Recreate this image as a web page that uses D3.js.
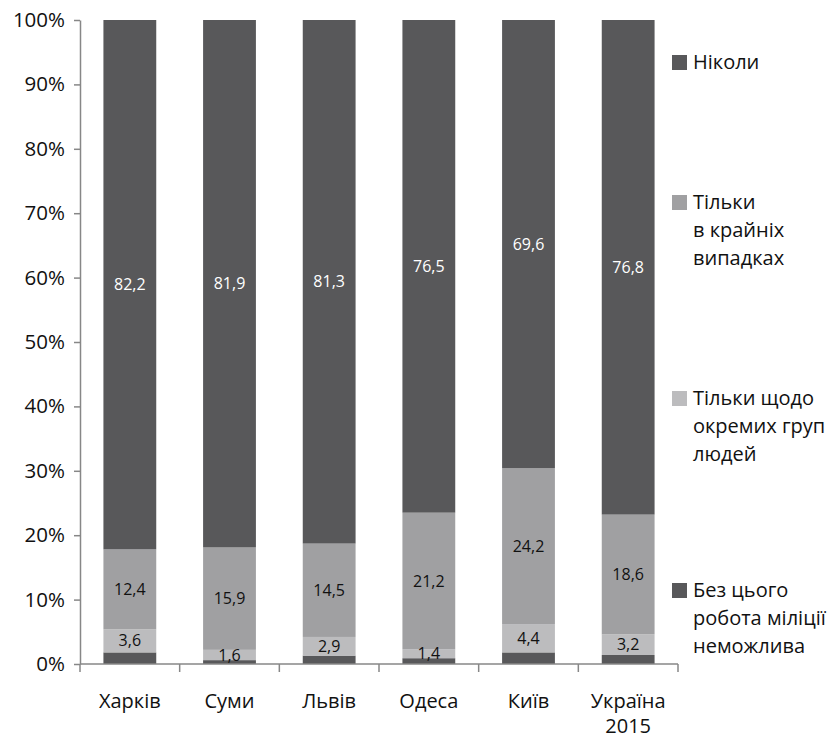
<!DOCTYPE html>
<html>
<head>
<meta charset="utf-8">
<script src="https://cdn.jsdelivr.net/npm/d3@7"></script>
<style>
  body { margin: 0; background: #fff; }
  text { font-family: "Open Sans", sans-serif; }
</style>
</head>
<body>
<div id="chart"></div>
<script>
const cities = ["Харків", "Суми", "Львів", "Одеса", "Київ", "Україна\n2015"];
const withoutIt = [1.8, 0.6, 1.3, 0.9, 1.8, 1.4];
const someGroups = [3.6, 1.6, 2.9, 1.4, 4.4, 3.2];
const extremeCases = [12.4, 15.9, 14.5, 21.2, 24.2, 18.6];
const never = [82.2, 81.9, 81.3, 76.5, 69.6, 76.8];

const seriesNames = ["Без цього робота міліції неможлива", "Тільки щодо окремих груп людей", "Тільки в крайніх випадках", "Ніколи"];
const seriesValues = [withoutIt, someGroups, extremeCases, never];
const colors = ["#58585a", "#bcbcbe", "#a0a0a2", "#58585a"];
const labelColors = [null, "#111", "#111", "#fff"];
const legendLines = [
    ["Без цього", "робота міліції", "неможлива"],
    ["Тільки щодо", "окремих груп", "людей"],
    ["Тільки", "в крайніх", "випадках"],
    ["Ніколи"]
];
const legendY = [590, 398, 202, 62];

const width = 839;
const height = 739;
const margin = { top: 20, right: 161, bottom: 75, left: 80 };

const svg = d3.select("#chart").append("svg")
    .attr("width", width)
    .attr("height", height);

const x = d3.scaleBand()
    .domain(cities)
    .range([margin.left, width - margin.right])
    .paddingInner(0.47)
    .paddingOuter(0.235);

const y = d3.scaleLinear()
    .domain([0, 100])
    .range([height - margin.bottom, margin.top]);

// stack the rows
const rows = cities.map((c, i) => {
    const r = { city: c };
    seriesNames.forEach((s, k) => { r[s] = seriesValues[k][i]; });
    return r;
});
const stacked = d3.stack().keys(seriesNames)(rows);

const layers = svg.selectAll("g.layer")
    .data(stacked)
    .join("g")
    .attr("class", "layer")
    .attr("fill", (d, i) => colors[i]);

layers.selectAll("rect")
    .data(d => d)
    .join("rect")
    .attr("x", d => x(d.data.city))
    .attr("width", x.bandwidth())
    .attr("y", d => y(d[1]))
    .attr("height", d => y(d[0]) - y(d[1]));

// value labels
stacked.forEach((layer, k) => {
    if (!labelColors[k]) return;
    svg.append("g").selectAll("text")
        .data(layer)
        .join("text")
        .attr("x", d => x(d.data.city) + x.bandwidth() / 2)
        .attr("y", d => y((d[0] + d[1]) / 2))
        .attr("dy", "0.35em")
        .attr("text-anchor", "middle")
        .attr("font-size", 16)
        .attr("fill", labelColors[k])
        .text(d => d3.format(".1f")(d[1] - d[0]).replace(".", ","));
});

// y axis
const yAxis = svg.append("g")
    .attr("transform", `translate(${margin.left},0)`)
    .call(d3.axisLeft(y).ticks(10).tickSize(6).tickSizeOuter(0).tickPadding(9)
        .tickFormat(d => d + "%"));
yAxis.selectAll("path, line").attr("stroke", "#878787").attr("stroke-width", 1.5);
yAxis.selectAll("text").attr("font-size", 20.5).attr("fill", "#111");

// x axis with ticks at band boundaries
const x0 = x.range()[0];
const step = x.step();
const bounds = d3.range(cities.length + 1).map(i => x0 + i * step);
svg.append("line")
    .attr("x1", x0).attr("x2", bounds[bounds.length - 1])
    .attr("y1", y(0)).attr("y2", y(0))
    .attr("stroke", "#878787").attr("stroke-width", 1.5);
svg.append("g").selectAll("line")
    .data(bounds)
    .join("line")
    .attr("x1", d => d).attr("x2", d => d)
    .attr("y1", y(0)).attr("y2", y(0) + 8)
    .attr("stroke", "#878787").attr("stroke-width", 1.5);

svg.append("g").selectAll("text")
    .data(cities)
    .join("text")
    .attr("x", d => x(d) + x.bandwidth() / 2)
    .attr("y", y(0) + 44)
    .attr("text-anchor", "middle")
    .attr("font-size", 20)
    .attr("fill", "#111")
    .each(function (d) {
        d.split("\n").forEach((line, i) => {
            d3.select(this).append("tspan")
                .attr("x", x(d) + x.bandwidth() / 2)
                .attr("dy", i === 0 ? 0 : 25)
                .text(line);
        });
    });

// legend
const legend = svg.append("g");
seriesNames.forEach((s, k) => {
    const g = legend.append("g").attr("transform", `translate(672,${legendY[k]})`);
    g.append("rect")
        .attr("x", 0).attr("y", -7)
        .attr("width", 15).attr("height", 15)
        .attr("fill", colors[k]);
    legendLines[k].forEach((line, i) => {
        g.append("text")
            .attr("x", 21)
            .attr("y", i * 28)
            .attr("dy", "0.35em")
            .attr("font-size", 20)
            .attr("fill", "#111")
            .text(line);
    });
});
</script>
</body>
</html>
